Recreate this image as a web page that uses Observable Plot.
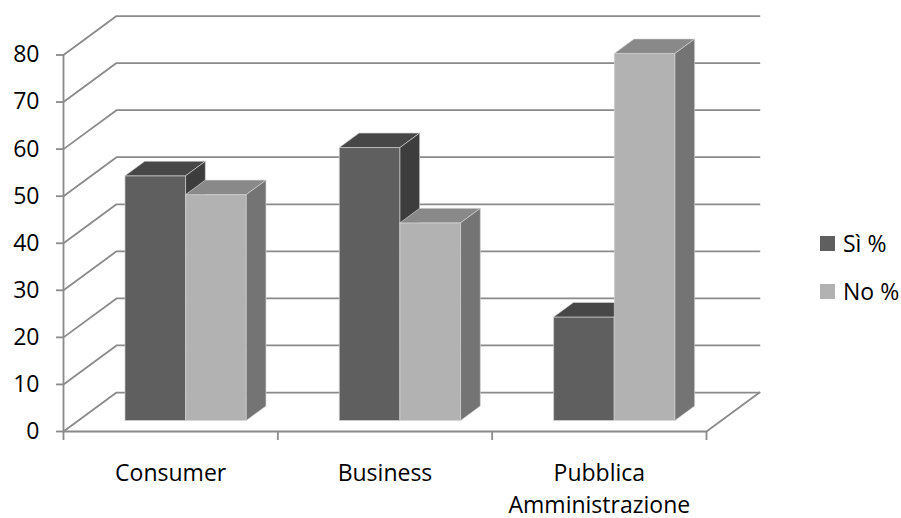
<!DOCTYPE html>
<html>
<head>
<meta charset="utf-8">
<script src="https://cdn.jsdelivr.net/npm/d3@7"></script>
<script src="https://cdn.jsdelivr.net/npm/@observablehq/plot@0.6"></script>
<style>
  html, body { margin: 0; padding: 0; background: #fff; }
  #wrap { position: relative; width: 901px; height: 518px; font-family: "Open Sans", sans-serif; }
  #legend .item { position: absolute; left: 820px; display: flex; align-items: center; gap: 8px; font-size: 23px; line-height: 1; color: #000; }
  #legend .sw { width: 15px; height: 15px; }
</style>
</head>
<body>
<div id="wrap"><div id="legend"></div></div>
<script>
// ---- data ----
const categories = ["Consumer", "Business", "Pubblica\nAmministrazione"];
const seriesNames = ["Sì %", "No %"];
const siValues = [52, 58, 22];
const noValues = [48, 42, 78];
const yTicks = [0, 10, 20, 30, 40, 50, 60, 70, 80];

// ---- styling / 3D geometry (data units) ----
const frontColors = ["#5f5f5f", "#b2b2b2"];
const topColors = ["#474747", "#898989"];
const sideColors = ["#3d3d3d", "#747474"];
const gridColor = "#8a8a8a";
const DX = 0.2473, DY = 8.28;   // offset of back wall
const D0 = 0.282, D1 = 0.654;   // bar front / back depth
const BAR = 0.283, GAP = (1 - 2 * BAR) / 2;

const P = (x, v, d, id) => ({x: x + d * DX, y: v + d * DY, id});

const seriesValues = [siValues, noValues];
const faces = seriesValues.map((vals, s) => {
  const front = [], top = [], side = [];
  vals.forEach((v, i) => {
    const x0 = i + GAP + s * BAR, x1 = x0 + BAR, id = i;
    front.push(P(x0, 0, D0, id), P(x1, 0, D0, id), P(x1, v, D0, id), P(x0, v, D0, id), P(x0, 0, D0, id));
    top.push(P(x0, v, D0, id), P(x1, v, D0, id), P(x1, v, D1, id), P(x0, v, D1, id), P(x0, v, D0, id));
    side.push(P(x1, 0, D0, id), P(x1, v, D0, id), P(x1, v, D1, id), P(x1, 0, D1, id), P(x1, 0, D0, id));
  });
  return {front, top, side};
});

// grid: left-wall diagonal + back-wall horizontal for each tick
const gridPts = yTicks.flatMap(v => [P(0, v, 0, v), P(0, v, 1, v), P(categories.length, v, 1, v)]);
const floorPts = [P(0, 0, 0, 0), P(categories.length, 0, 0, 0), P(categories.length, 0, 1, 0)];

const faceMarks = [];
faces.forEach((f, s) => {
  const common = {x: "x", y: "y", z: "id", stroke: "#d6d6d6", strokeWidth: 0.8, strokeOpacity: 0.8};
  faceMarks.push(Plot.line(f.front, {...common, fill: frontColors[s]}));
  faceMarks.push(Plot.line(f.top, {...common, fill: topColors[s]}));
  faceMarks.push(Plot.line(f.side, {...common, fill: sideColors[s]}));
});

const chart = Plot.plot({
  width: 901,
  height: 518,
  marginLeft: 63,
  marginRight: 195,
  marginTop: 15,
  marginBottom: 87,
  style: {fontFamily: "Open Sans", fontSize: "23px", background: "#fff", color: "#000"},
  x: {type: "linear", domain: [0, categories.length], range: [63, 706], axis: null},
  y: {type: "linear", domain: [0, 80], range: [431, 54.5], axis: null},
  marks: [
    Plot.line(gridPts, {x: "x", y: "y", z: "id", stroke: gridColor, strokeWidth: 1.8}),
    Plot.line(floorPts, {x: "x", y: "y", z: "id", stroke: gridColor, strokeWidth: 1.8}),
    Plot.ruleX([0], {y1: 0, y2: 80, stroke: gridColor, strokeWidth: 1.8}),
    Plot.axisY(yTicks, {anchor: "left", label: null, tickSize: 7, tickPadding: 17, stroke: gridColor, strokeWidth: 1.8, fill: "#000", fontSize: 23, tickFormat: d => String(d)}),
    Plot.axisX(d3.range(categories.length + 1), {anchor: "bottom", label: null, tickSize: 9, stroke: gridColor, strokeWidth: 1.8, tickFormat: () => ""}),
    Plot.axisX(categories.map((c, i) => i + 0.5), {anchor: "bottom", label: null, tickSize: 0, tickPadding: 27.5, fill: "#000", fontSize: 23, lineHeight: 1.374, tickFormat: d => categories[Math.floor(d)]}),
    ...faceMarks
  ]
});

document.getElementById("wrap").prepend(chart);

// legend (HTML, right side)
const legend = document.getElementById("legend");
const legendTops = [232.3, 280.2];
seriesNames.forEach((name, s) => {
  const item = document.createElement("div");
  item.className = "item";
  item.style.top = legendTops[s] + "px";
  const sw = document.createElement("span");
  sw.className = "sw";
  sw.style.background = frontColors[s];
  const label = document.createElement("span");
  label.textContent = name;
  item.append(sw, label);
  legend.append(item);
});
</script>
</body>
</html>
